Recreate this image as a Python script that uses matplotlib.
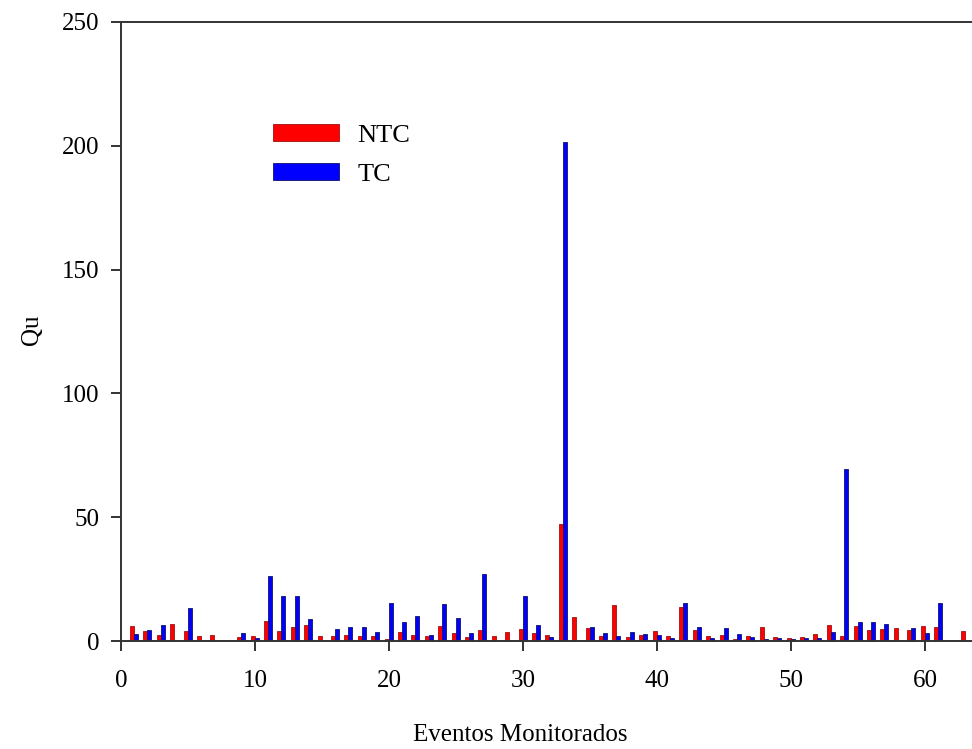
import matplotlib
matplotlib.use("Agg")
import matplotlib.pyplot as plt
from matplotlib.patches import Patch
import numpy as np

events = list(range(1, 64))
ntc = [6.2, 4.2, 2.4, 6.7, 4.2, 1.9, 2.6, 0.0, 1.6, 2.2,
       8.2, 4.2, 5.7, 6.3, 2.0, 2.0, 2.3, 1.9, 2.0, 0.9,
       3.8, 2.6, 1.9, 5.9, 3.4, 1.7, 4.4, 2.0, 3.8, 4.7,
       3.1, 2.6, 47.2, 9.6, 5.4, 2.0, 14.7, 1.7, 2.6, 4.0,
       1.9, 13.9, 4.6, 2.0, 2.4, 0.9, 1.9, 5.5, 1.6, 1.3,
       1.5, 2.8, 6.3, 2.1, 6.0, 4.4, 5.0, 5.4, 4.6, 6.2,
       5.7, 0.0, 3.9]
tc = [2.8, 4.6, 6.6, 0.0, 13.2, 0.0, 0.0, 0.0, 3.2, 1.2,
      26.4, 18.3, 18.0, 8.9, 0.0, 5.0, 5.7, 5.7, 3.6, 15.5,
      7.5, 10.2, 2.4, 14.9, 9.4, 3.2, 27.2, 0.0, 0.0, 18.2,
      6.5, 1.5, 201.5, 0.0, 5.7, 3.4, 2.0, 3.8, 3.0, 2.4,
      1.2, 15.5, 5.7, 1.1, 5.1, 2.8, 1.6, 0.9, 1.1, 0.9,
      1.1, 1.3, 3.5, 69.5, 7.7, 7.8, 7.0, 0.0, 5.4, 3.4,
      15.3, 0.0, 0.0]
series_names = ["NTC", "TC"]
x_ticks = [0, 10, 20, 30, 40, 50, 60]
y_ticks = [0, 50, 100, 150, 200, 250]

plt.rcParams['font.family'] = ['Liberation Serif', 'DejaVu Serif']

W, H = 972, 749
fig = plt.figure(figsize=(W / 100, H / 100), dpi=100)
px_per_unit = 13.4
x_max = 65
left = 121 / W
bottom = (H - 641) / H
width = x_max * px_per_unit / W
height = (641 - 22) / H
ax = fig.add_axes([left, bottom, width, height])

x = np.array(events, dtype=float)
bw = 0.3
red = "#ff0000"
blue = "#0000ff"
ax.bar(x - 0.18, ntc, width=bw, color=red, edgecolor="#a01010", linewidth=0.6, zorder=2)
ax.bar(x + 0.12, tc, width=bw, color=blue, edgecolor="#10106a", linewidth=0.6, zorder=2)

ax.set_xlim(0, x_max)
ax.set_ylim(0, 250)
ax.set_xticks(x_ticks)
ax.set_yticks(y_ticks)
ax.spines['right'].set_visible(False)
for s in ['left', 'bottom', 'top']:
    ax.spines[s].set_linewidth(1.4)
    ax.spines[s].set_color("#333333")
ax.tick_params(axis='both', direction='out', length=7, width=1.4, color="#333333",
               labelsize=18)
ax.tick_params(axis='y', pad=8.5)
ax.tick_params(axis='x', pad=14)

ax.set_xlabel("Eventos Monitorados", fontsize=18)
ax.set_ylabel("Qu", fontsize=18)
ax.xaxis.set_label_coords((520 - 121) / (x_max * px_per_unit), -(735 - 641) / (641 - 22))
ax.yaxis.set_label_coords(-(121 - 32) / (x_max * px_per_unit), (641 - 330) / (641 - 22))
ax.xaxis.label.set_va('center')
ax.yaxis.label.set_va('center')

handles = [Patch(facecolor=red, edgecolor="#a01010", linewidth=0.6),
           Patch(facecolor=blue, edgecolor="#10106a", linewidth=0.6)]
leg = ax.legend(handles, series_names, loc='upper left', frameon=False, fontsize=19,
                handlelength=2.5, handleheight=0.6, handletextpad=0.7, labelspacing=0.62,
                borderpad=0, borderaxespad=0,
                bbox_to_anchor=(273 / W, (H - 124) / H), bbox_transform=fig.transFigure)

fig.savefig("out.png", dpi=100)
